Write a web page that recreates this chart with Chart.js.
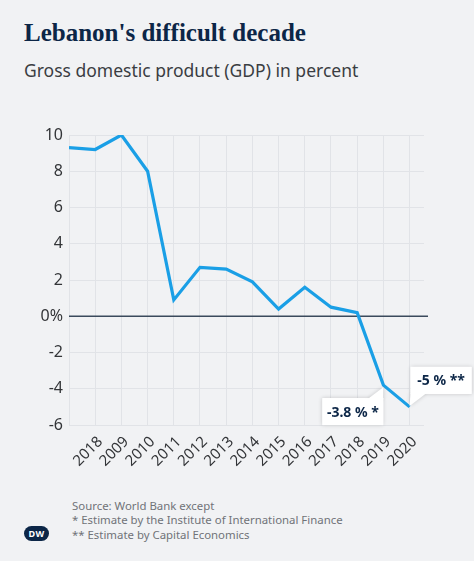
<!DOCTYPE html>
<html>
<head>
<meta charset="utf-8">
<script src="https://cdn.jsdelivr.net/npm/chart.js@4.4.0/dist/chart.umd.min.js"></script>
<style>
  html, body { margin: 0; padding: 0; }
  body { width: 474px; height: 561px; background: #f1f2f4; position: relative; overflow: hidden; font-family: "Noto Sans", sans-serif; }
  #title { position: absolute; left: 24px; top: 19px; font-family: "Liberation Serif", serif; font-weight: bold; font-size: 25px; color: #0c2647; white-space: nowrap; }
  #subtitle { position: absolute; left: 24px; top: 58px; font-size: 17.5px; color: #3a3d42; white-space: nowrap; }
  #wrap { position: absolute; left: 0; top: 110px; width: 474px; height: 360px; }
  #foot { position: absolute; left: 72px; top: 499px; font-size: 11.4px; line-height: 14.3px; color: #707378; white-space: nowrap; }
  #logo { position: absolute; left: 24px; top: 526px; width: 25px; height: 15px; border-radius: 8px; background: #0c2647; color: #fff; font: bold 9px "Noto Sans", sans-serif; line-height: 15px; text-align: center; letter-spacing: 0.5px; }
</style>
</head>
<body>
<div id="title">Lebanon's difficult decade</div>
<div id="subtitle">Gross domestic product (GDP) in percent</div>
<div id="wrap"><canvas id="canvas"></canvas></div>
<div id="logo">DW</div>
<div id="foot">Source: World Bank except<br>* Estimate by the Institute of International Finance<br>** Estimate by Capital Economics</div>
<script>
// GDP growth
var years = [2007, 2008, 2009, 2010, 2011, 2012, 2013, 2014, 2015, 2016, 2017, 2018, 2019, 2020];
var gdp = [9.3, 9.2, 10, 8.0, 0.9, 2.7, 2.6, 1.9, 0.4, 1.6, 0.5, 0.2, -3.8, -5.0];
// tick labels as printed in the source (first year unlabelled, "2018" typo kept)
var tickLabels = ['', '2018', '2009', '2010', '2011', '2012', '2013', '2014', '2015', '2016', '2017', '2018', '2019', '2020'];
var callouts = [
  { year: 2019, text: '-3.8 % *' },
  { year: 2020, text: '-5 % **' }
];

var calloutPlugin = {
  id: 'callouts',
  afterDatasetsDraw: function(chart) {
    var ctx = chart.ctx;
    var xs = chart.scales.x, ys = chart.scales.y;
    ctx.save();
    ctx.font = 'bold 14px "Noto Sans", sans-serif';
    callouts.forEach(function(c, k) {
      var i = years.indexOf(c.year);
      var px = xs.getPixelForValue(c.year), py = ys.getPixelForValue(gdp[i]);
      var w = 61, h = 27, bx, by, tri;
      if (k === 0) {
        bx = px - w; by = py + 13;
        tri = [[px - 16, by + 1], [px, py + 2], [px, by + 1]];
      } else {
        bx = px + 1; by = py - 40;
        tri = [[bx, by + h - 1], [bx + 16, by + h - 1], [px, py - 1]];
      }
      ctx.shadowColor = 'rgba(0,0,0,0.18)';
      ctx.shadowBlur = 4;
      ctx.fillStyle = '#ffffff';
      ctx.fillRect(bx, by, w, h);
      ctx.beginPath();
      ctx.moveTo(tri[0][0], tri[0][1]);
      ctx.lineTo(tri[1][0], tri[1][1]);
      ctx.lineTo(tri[2][0], tri[2][1]);
      ctx.closePath();
      ctx.fill();
      ctx.shadowBlur = 0;
      ctx.shadowColor = 'transparent';
      ctx.fillRect(bx, by, w, h);
      ctx.fillStyle = '#0c2647';
      ctx.textAlign = 'center';
      ctx.textBaseline = 'middle';
      ctx.fillText(c.text, bx + w / 2, by + h / 2 + 1);
    });
    ctx.restore();
  }
};

// zero line runs a little past the plot on the right
var zeroLinePlugin = {
  id: 'zeroLine',
  beforeDatasetsDraw: function(chart) {
    var ctx = chart.ctx, a = chart.chartArea;
    var y0 = chart.scales.y.getPixelForValue(0);
    ctx.save();
    ctx.strokeStyle = '#3b4a5c';
    ctx.lineWidth = 1.6;
    ctx.beginPath();
    ctx.moveTo(a.left, y0);
    ctx.lineTo(a.right + 4, y0);
    ctx.stroke();
    ctx.restore();
  }
};

var ctx = document.getElementById('canvas').getContext('2d');
var myLineChart = new Chart(ctx, {
  type: 'line',
  data: {
    datasets: [{
      data: years.map(function(y, i) { return { x: y, y: gdp[i] }; }),
      borderColor: '#1a9fe6',
      borderWidth: 3.2,
      borderJoinStyle: 'miter',
      pointRadius: 0,
      tension: 0,
      fill: false
    }]
  },
  options: {
    responsive: true,
    maintainAspectRatio: false,
    animation: false,
    layout: { padding: { top: 25, right: 50, left: 0, bottom: 0 } },
    plugins: { legend: { display: false }, tooltip: { enabled: false } },
    scales: {
      x: {
        type: 'linear',
        min: 2007,
        max: 2020.55,
        afterFit: function(scale) { scale.height = 45; },
        border: { display: false },
        grid: { color: '#e1e3e7', lineWidth: 1, drawTicks: false },
        ticks: {
          stepSize: 1,
          includeBounds: false,
          autoSkip: false,
          minRotation: 45,
          maxRotation: 45,
          padding: 8,
          labelOffset: 5,
          color: '#333538',
          font: { family: 'Noto Sans', size: 15 },
          callback: function(v) {
            var i = years.indexOf(v);
            return i < 0 ? '' : tickLabels[i];
          }
        }
      },
      y: {
        min: -6,
        max: 10,
        afterFit: function(scale) { scale.width = 69; },
        border: { display: false },
        grid: {
          drawTicks: false,
          color: function(c) { return c.tick && c.tick.value === 0 ? 'rgba(0,0,0,0)' : '#e1e3e7'; }
        },
        ticks: {
          stepSize: 2,
          padding: 6,
          color: '#333538',
          font: { family: 'Noto Sans', size: 16 },
          callback: function(v) { return v === 0 ? '0%' : v; }
        }
      }
    }
  },
  plugins: [zeroLinePlugin, calloutPlugin]
});
</script>
</body>
</html>
